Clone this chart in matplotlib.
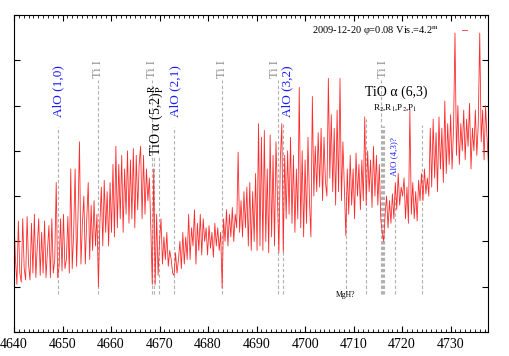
import matplotlib
matplotlib.use("Agg")
import matplotlib.pyplot as plt
import numpy as np
from matplotlib.ticker import MultipleLocator

plt.rcParams['font.family'] = ['Liberation Serif', 'DejaVu Serif']
plt.rcParams['mathtext.fontset'] = 'stix'

# === Data ===
WAVE_START = 4640.0
WAVE_STEP = 0.3
flux = [
    2.5, 1.6, 1.05, 2.45, 1.3, 1.1, 2.5, 1.4, 1.15, 2.55,
    1.5, 1.15, 2.4, 1.3, 2.6, 1.2, 1.9, 2.5, 1.25, 2.2,
    1.3, 2.45, 1.2, 1.8, 2.35, 1.2, 2.5, 1.3, 1.6, 3.3,
    1.2, 1.45, 2.5, 1.35, 2.6, 1.4, 1.6, 2.55, 1.3, 3.6,
    1.4, 2.2, 3.6, 1.45, 2.6, 4.2, 1.5, 2.4, 3.0, 1.5,
    2.5, 3.3, 1.6, 2.8, 1.8, 2.9, 1.9, 2.6, 1.0, 2.4,
    3.2, 1.9, 3.35, 2.2, 3.1, 1.9, 3.3, 2.2, 3.7, 2.1,
    4.1, 2.3, 3.7, 2.5, 3.9, 2.2, 3.6, 2.6, 4.0, 2.4,
    3.8, 2.5, 4.05, 2.3, 3.9, 2.7, 3.7, 4.1, 2.5, 3.9,
    2.6, 3.6, 2.9, 3.4, 2.3, 1.05, 3.6, 1.05, 2.6, 1.25,
    2.0, 2.5, 1.5, 2.1, 1.6, 2.2, 1.45, 1.8, 1.6, 1.3,
    1.25, 1.75, 1.3, 1.6, 2.0, 1.4, 2.2, 1.5, 2.1, 1.6,
    2.6, 1.6, 2.3, 1.9, 2.7, 1.5, 2.4, 1.8, 2.6, 1.7,
    2.5, 2.0, 2.3, 1.7, 2.35, 1.85, 2.2, 1.65, 2.4, 1.9,
    2.3, 1.8, 2.2, 0.97, 2.5, 2.0, 2.7, 1.9, 2.6, 2.1,
    2.75, 2.0, 2.6, 2.3, 3.97, 2.2, 2.9, 2.1, 3.1, 2.3,
    3.2, 1.9, 3.3, 1.8, 3.1, 2.0, 3.5, 1.8, 4.6, 1.9,
    4.3, 1.8, 4.45, 2.0, 3.6, 1.75, 4.35, 2.1, 3.9, 1.9,
    4.2, 3.0, 1.75, 3.8, 4.6, 1.76, 3.9, 2.5, 4.0, 2.6,
    4.3, 2.4, 3.9, 2.2, 3.6, 2.5, 5.4, 2.3, 4.0, 2.1,
    3.8, 2.4, 4.3, 2.9, 2.1, 5.2, 3.0, 4.1, 3.1, 4.4,
    3.2, 4.5, 2.9, 4.3, 3.3, 3.0, 5.6, 3.4, 4.8, 3.1,
    4.5, 2.8, 4.9, 3.1, 5.6, 2.9, 4.2, 3.2, 2.13, 3.6,
    2.6, 3.9, 2.8, 3.6, 2.5, 3.95, 3.0, 3.7, 2.7, 3.8,
    2.9, 4.75, 2.8, 4.0, 3.1, 3.8, 2.75, 4.1, 3.0, 3.9,
    2.8, 3.7, 2.5, 2.2, 2.0, 2.6, 3.0, 2.3, 2.9, 2.4,
    3.05, 2.5, 3.3, 2.7, 3.5, 2.8, 3.2, 3.0, 3.4, 2.5,
    3.2, 2.4, 4.9, 2.6, 3.3, 2.5, 3.1, 2.45, 3.35, 2.9,
    3.5, 2.9, 3.6, 3.05, 3.4, 3.0, 4.5, 3.2, 4.7, 3.4,
    4.4, 3.1, 4.75, 3.6, 4.5, 3.3, 5.1, 3.5, 4.6, 3.7,
    4.8, 3.6, 4.5, 6.6, 3.9, 5.0, 3.7, 4.6, 4.0, 4.9,
    3.8, 4.7, 4.1, 5.05, 3.6, 4.5, 4.0, 4.9, 3.9, 4.6,
    6.6, 4.2, 4.9, 3.8, 5.0, 4.3, 3.7, 4.8,
]
wave = WAVE_START + WAVE_STEP * np.arange(len(flux))

# line markers: position, top of dashed line
line_pos = [4649.1, 4657.4, 4668.5, 4668.9, 4669.9, 4672.9, 4682.8,
            4694.5, 4695.5, 4708.4, 4712.5, 4715.7, 4715.9, 4716.1, 4716.3,
            4718.5, 4724.0]
line_top = [4.52, 5.56, 5.56, 3.86, 3.86, 4.52, 5.56,
            5.56, 4.6, 3.1, 4.7, 5.56, 4.55, 4.55, 4.55,
            3.3, 4.56]
LINE_BOTTOM = 0.84

fig = plt.figure(figsize=(5.09, 3.56), dpi=100)
ax = fig.add_axes([0.0275, 0.0674, 0.9312, 0.8906])

for x, top in zip(line_pos, line_top):
    ax.plot([x, x], [LINE_BOTTOM, top], ls=(0, (3, 2)), color='#b0b0b0', lw=0.8, zorder=1)

ax.plot(wave, flux, color='#ff2a2a', lw=0.6, zorder=2,
        label='2009-12-20 \u03c6=0.08 Vis.=4.2$^{\\rm m}$')

# labels
blue = '#1a1aff'
for x, y, s in [(4649.1, 4.74, 'AlO (1,0)'), (4673.2, 4.74, 'AlO (2,1)'),
                (4696.4, 4.74, 'AlO (3,2)')]:
    ax.text(x, y, s, rotation=90, ha='center', va='bottom', color=blue, fontsize=9.5)
for x in [4657.4, 4668.5, 4682.8, 4693.9, 4716.0]:
    ax.text(x, 5.6, 'Ti I', rotation=90, ha='center', va='bottom', color='#8c8c8c', fontsize=9)
ax.text(4669.3, 3.88, 'TiO \u03b1 (5,2)$^{\\rm R}_{\\rm P}$', rotation=90,
        ha='center', va='bottom', color='black', fontsize=10)
ax.text(4718.7, 5.3, 'TiO \u03b1 (6,3)', ha='center', va='center', fontsize=10)
ax.text(4718.5, 4.95, r'R$_2$,R$_1$,P$_2$,P$_1$', ha='center', va='center', fontsize=6.5)
ax.text(4718.3, 3.45, 'AlO (4,3)?', rotation=90, ha='center', va='bottom', color=blue, fontsize=6.5)
ax.text(4708.4, 0.82, 'MgH?', ha='center', va='center', fontsize=5.5)

ax.set_xlim(4640, 4737.7)
ax.set_ylim(0, 7)
ax.xaxis.set_major_locator(MultipleLocator(10))
ax.xaxis.set_minor_locator(MultipleLocator(1))
ax.yaxis.set_major_locator(MultipleLocator(1))
ax.tick_params(which='both', direction='in', top=True, right=True, labelsize=10)
ax.tick_params(which='major', length=4)
ax.tick_params(which='minor', length=2)
ax.tick_params(axis='y', labelleft=False)
ax.tick_params(axis='x', pad=4)

ax.legend(loc='upper right', frameon=False, markerfirst=False, fontsize=7.5,
          handlelength=0.5, borderaxespad=0.5, handletextpad=2.2,
          bbox_to_anchor=(0.975, 1.0))

fig.savefig('out.png', dpi=100)
